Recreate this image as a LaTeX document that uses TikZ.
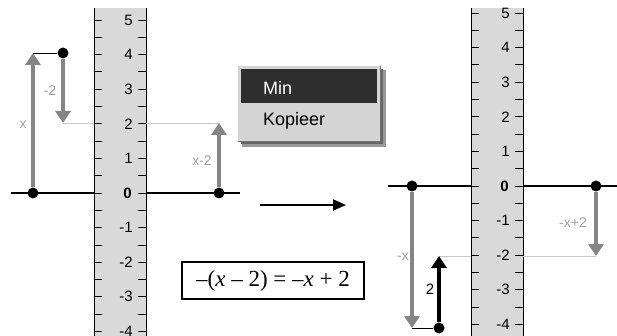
\documentclass[tikz,border=0pt]{standalone}
\usepackage{fontspec}
\setmainfont{Liberation Serif}
\newfontfamily\guifont{Liberation Sans}
\usepackage{xcolor}
\usetikzlibrary{calc, arrows.meta, positioning}

\definecolor{rulerfill}{HTML}{D9D9D9}
\definecolor{vecgray}{HTML}{858585}
\definecolor{labgray}{HTML}{A0A0A0}
\definecolor{guidegray}{HTML}{C8C8C8}
\definecolor{menudark}{HTML}{2E2E2E}
\definecolor{menulight}{HTML}{D4D4D4}

\begin{document}
\begin{tikzpicture}[x=1pt, y=-1pt,
    dot/.style={circle, fill=black, inner sep=0pt, minimum size=11pt},
    vec/.style={line width=3.5pt, draw=vecgray, -{Triangle[width=15pt,length=12pt]}},
    blackvec/.style={line width=3.5pt, draw=black, -{Triangle[width=15pt,length=12pt]}},
    guide/.style={guidegray, line width=0.8pt},
    axisline/.style={line width=1.8pt},
    lab/.style={font=\guifont\fontsize{14}{14}\selectfont, text=labgray, inner sep=0pt},
    rulernum/.style={font=\guifont\fontsize{15}{15}\selectfont, anchor=east, inner sep=0pt},
    menutext/.style={font=\guifont\fontsize{18}{18}\selectfont, anchor=west, inner sep=0pt}]

    \useasboundingbox (0,0) rectangle (617,336);

    % =================================================================
    % 1. CAC THUOC DOC (hai thuoc, moi thuoc 0 o vi tri khac nhau)
    % =================================================================
    % thuoc trai: 0 tai y=193, thuoc phai: 0 tai y=186, 1 don vi = 34.6
    \foreach \xl/\yz in {94/193, 471/186}{
        \fill[rulerfill] (\xl,8) rectangle ++(52,328);
        \draw[line width=0.8pt] (\xl,8) -- (\xl,336) (\xl+52,8) -- (\xl+52,336);
        \foreach \k in {-9,...,10}{
            \draw[line width=0.8pt] (\xl,\yz-\k*17.3) -- ++(8,0)
                                    (\xl+52,\yz-\k*17.3) -- ++(-8,0);
        }
        \foreach \n in {-4,...,5}{
            \ifnum\n=0
                \node[rulernum, font=\guifont\bfseries\fontsize{15}{15}\selectfont] at (\xl+38,\yz) {0};
            \else
                \node[rulernum] at (\xl+39,\yz-\n*34.6) {\n};
            \fi
        }
    }

    % =================================================================
    % 2. HINH TRAI: x, -2, x-2
    % =================================================================
    \coordinate (Lax1) at (11,193);
    \coordinate (Lax2) at (94,193);
    \coordinate (Lax3) at (146,193);
    \coordinate (Lax4) at (240,193);
    \draw[axisline] (Lax1) -- (Lax2) (Lax3) -- (Lax4);

    \node[dot] (P0) at (33,193) {};
    \coordinate (Ptop) at (33,53);
    \node[dot] (P4) at (63,53) {};
    \coordinate (P2) at (63,123);
    \node[dot] (Q0) at (219,193) {};
    \coordinate (Q2) at (219,123);

    % duong giong ngang muc 2
    \draw[guide] (P2) -- (94,123);
    \draw[guide] (146,123) -- (Q2);
    \draw[line width=0.8pt] (Ptop) -- (P4);

    \draw[vec] (P0) -- (Ptop);
    \draw[vec] (P4) -- (P2);
    \draw[vec] (Q0) -- (Q2);

    \node[lab] at (23,125) {x};
    \node[lab] at (50,91) {-2};
    \node[lab] at (202,161) {x-2};

    % =================================================================
    % 3. MENU "Min / Kopieer"
    % =================================================================
    \fill[black!40] (242,70) rectangle (386,147);
    \fill[black!60] (241,69) rectangle (383,144);
    \fill[menulight] (237,65) rectangle (381,142);
    \draw[white, line width=1.2pt] (237.6,141.4) -- (237.6,65.6) -- (380.4,65.6);
    \draw[black!55, line width=1.2pt] (237.6,141.4) -- (380.4,141.4) -- (380.4,65.6);
    \fill[menudark] (241,69) rectangle (377,103);
    \node[menutext, text=white] (min) at (263,88) {Min};
    \node[menutext] (kop) at (263,121) {Kopieer};

    % =================================================================
    % 4. MUI TEN CHUYEN VA DANG THUC
    % =================================================================
    \coordinate (ArrL) at (260,205);
    \coordinate (ArrR) at (346,205);
    \draw[line width=1.8pt, -{Triangle[width=11pt,length=13pt]}] (ArrL) -- (ArrR);

    \node[draw, line width=1.4pt, minimum width=182pt, minimum height=37pt, inner sep=0pt,
          font=\fontsize{23}{23}\selectfont] (eq) at (273,280.5)
          {–(\textit{x} – 2) = –\textit{x} + 2};

    % =================================================================
    % 5. HINH PHAI: -x, 2, -x+2
    % =================================================================
    \coordinate (Rax1) at (388,186);
    \coordinate (Rax2) at (471,186);
    \coordinate (Rax3) at (523,186);
    \coordinate (Rax4) at (617,186);
    \draw[axisline] (Rax1) -- (Rax2) (Rax3) -- (Rax4);

    \node[dot] (R0) at (412,186) {};
    \coordinate (Rbot) at (412,328);
    \node[dot] (R4) at (439,328) {};
    \coordinate (R2) at (439,256);
    \node[dot] (S0) at (596,186) {};
    \coordinate (S2) at (596,256);

    \draw[guide] (R2) -- (471,256);
    \draw[guide] (523,256) -- (S2);
    \draw[line width=0.8pt] (Rbot) -- (R4);

    \draw[vec] (R0) -- (Rbot);
    \draw[blackvec] (R4) -- (R2);
    \draw[vec] (S0) -- (S2);

    \node[lab] at (403,257) {-x};
    \node[font=\guifont\fontsize{15}{15}\selectfont, inner sep=0pt] at (430,289) {2};
    \node[lab] at (573,223) {-x+2};

\end{tikzpicture}
\end{document}
